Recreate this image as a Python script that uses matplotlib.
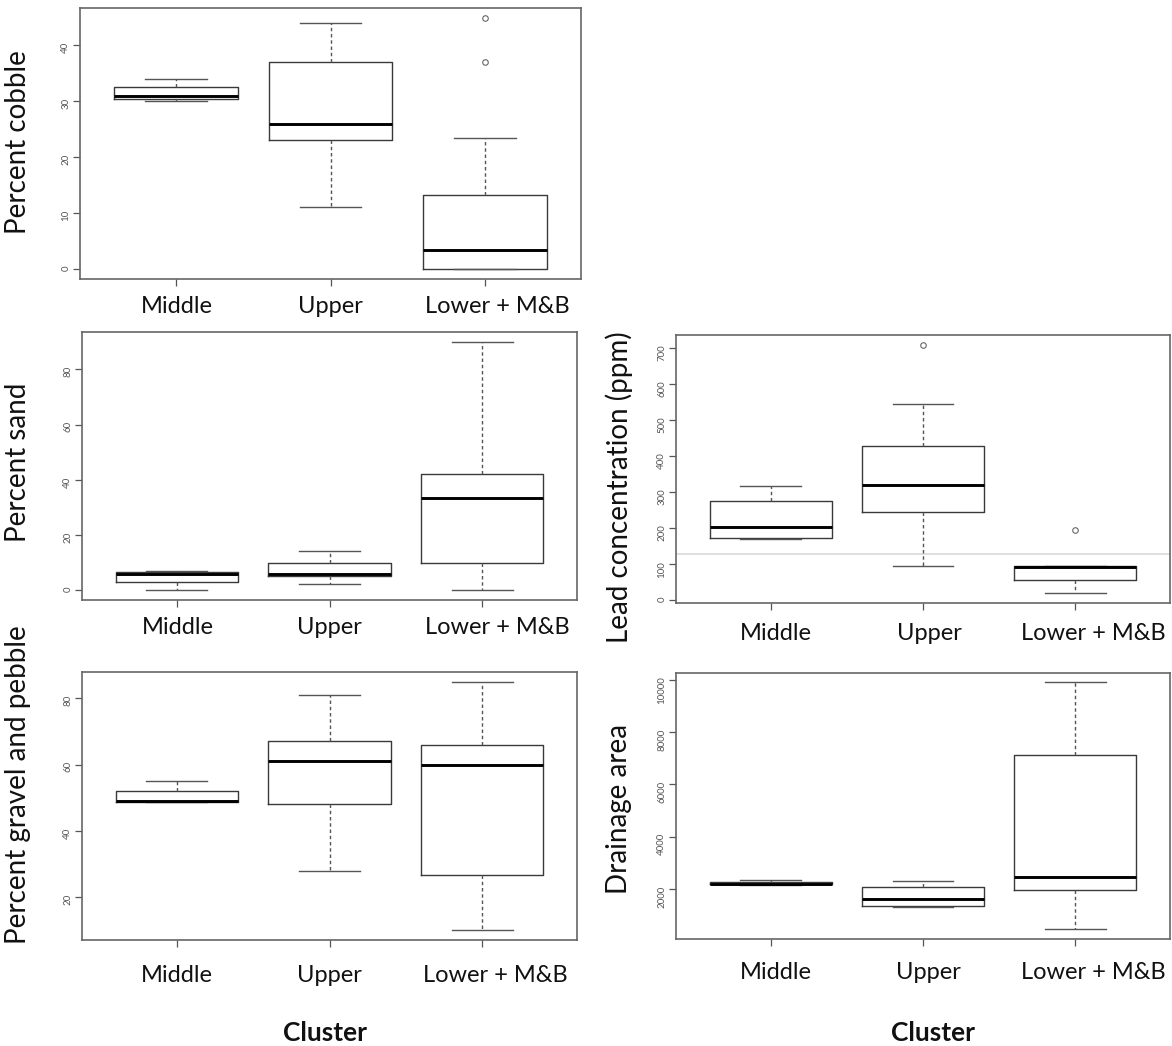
import matplotlib.pyplot as plt
from matplotlib.ticker import MultipleLocator

plt.rcParams['font.family'] = ['Lato', 'DejaVu Sans']

clusters = ["Middle", "Upper", "Lower + M&B"]

# five-number summaries per cluster: lower whisker, Q1, median, Q3, upper whisker
cobble = [[30, 30.5, 31, 32.5, 34], [11, 23, 26, 37, 44], [0, 0, 3.4, 13.3, 23.4]]
cobble_out = [[], [], [37, 45]]

sand = [[0, 3, 6, 6.5, 7], [2.2, 5, 6, 10, 14], [0, 10, 33.3, 42, 90]]
sand_out = [[], [], []]

gravel = [[48.8, 48.8, 49, 52, 55], [28, 48, 61, 67, 81], [10, 26.7, 60, 66, 85]]
gravel_out = [[], [], []]

lead = [[170, 174, 204, 276, 318], [94, 244, 321, 428, 545], [20, 56, 92, 94, 94]]
lead_out = [[], [709], [194]]
lead_pec = 128

drainage = [[2150, 2170, 2200, 2260, 2330], [1300, 1326, 1618, 2064, 2305],
            [448, 1949, 2471, 7140, 9900]]
drainage_out = [[], [], []]

W, H = 1172, 1046
fig = plt.figure(figsize=(W / 100, H / 100), dpi=100)


def px_axes(x0, y0, x1, y1):
    return fig.add_axes([x0 / W, 1 - y1 / H, (x1 - x0) / W, (y1 - y0) / H])


def draw_box(ax, summ, out, step, lab_dy, lab_dx):
    stats = [dict(whislo=s[0], q1=s[1], med=s[2], q3=s[3], whishi=s[4], fliers=o)
             for s, o in zip(summ, out)]
    ax.bxp(stats, positions=[1, 2, 3], widths=0.8, capwidths=0.4,
           boxprops=dict(color='#3a3a3a', lw=1.0),
           medianprops=dict(color='black', lw=2.1),
           whiskerprops=dict(color='#555555', lw=1.0, ls=(0, (2.5, 2))),
           capprops=dict(color='#555555', lw=1.0),
           flierprops=dict(marker='o', ms=4, mfc='none', mec='#666666', mew=0.8))
    vals = [v for s in summ for v in s] + [v for o in out for v in o]
    lo, hi = min(vals), max(vals)
    pad = 0.04 * (hi - lo)
    ax.set_ylim(lo - pad, hi + pad)
    ax.set_xlim(0.38, 3.62)
    ax.yaxis.set_major_locator(MultipleLocator(step))
    ax.set_xticks([1, 2, 3])
    ax.set_xticklabels([])
    ax.tick_params(axis='x', direction='out', length=5, width=0.9, color='#555555')
    ax.tick_params(axis='y', direction='out', length=5, width=0.9, color='#555555',
                   labelsize=7, labelcolor='#555555', labelrotation=90, pad=2)
    for sp in ax.spines.values():
        sp.set_color('#666666')
        sp.set_linewidth(1.2)
    for i, name in enumerate(clusters):
        ax.annotate(name, xy=(i + 1, 0), xycoords=('data', 'axes fraction'),
                    xytext=(lab_dx[i], -lab_dy), textcoords='offset pixels',
                    ha='center', va='center', fontsize=17, color='#111111')


ax1 = px_axes(80, 7.5, 581, 279)
draw_box(ax1, cobble, cobble_out, 10, 27, [1, 0, 12])

ax2 = px_axes(82, 332, 577, 600)
draw_box(ax2, sand, sand_out, 20, 28, [1, 0, 15])

ax3 = px_axes(82, 672, 577, 940)
draw_box(ax3, gravel, gravel_out, 20, 35, [0, 0, 13])

ax4 = px_axes(676, 335, 1170, 603)
ax4.axhline(lead_pec, color='#dcdcdc', lw=1.3, zorder=0)
draw_box(ax4, lead, lead_out, 100, 30, [5, 6, 18])

ax5 = px_axes(676, 672.5, 1170, 939.3)
draw_box(ax5, drainage, drainage_out, 2000, 33, [5, 5, 18])

ylabels = [("Percent cobble", 18, 142), ("Percent sand", 18, 462),
           ("Percent gravel and pebble", 18, 785),
           ("Lead concentration (ppm)", 619, 487), ("Drainage area", 619, 809)]
for txt, x, y in ylabels:
    fig.text(x / W, 1 - y / H, txt, rotation=90, ha='center', va='center',
             fontsize=20, color='#111111')

fig.text(325 / W, 1 - 1033 / H, "Cluster", ha='center', va='center',
         fontsize=19, fontweight='bold', color='#111111')
fig.text(933 / W, 1 - 1033 / H, "Cluster", ha='center', va='center',
         fontsize=19, fontweight='bold', color='#111111')

fig.savefig("out.png", dpi=100)
